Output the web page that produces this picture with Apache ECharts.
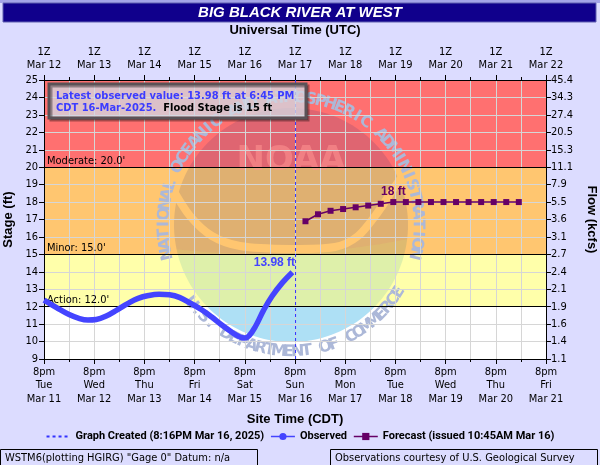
<!DOCTYPE html>
<html><head><meta charset="utf-8">
<script src="https://cdn.jsdelivr.net/npm/echarts@6/dist/echarts.min.js"></script>
<style>html,body{margin:0;padding:0;background:#DCDCFF}#c{width:600px;height:465px}</style>
</head><body><div id="c"></div>
<script>
// ---- data (times in CDT, March 2025) ----
const startTime = '03-11 20:00';           // = 01Z Mar 12
const endTime = '03-21 20:00';
const obsTimes = ['03-11 20:00','03-12 02:00','03-12 08:00','03-12 13:00','03-12 17:00','03-12 21:00',
  '03-13 02:00','03-13 07:00','03-13 12:00','03-13 17:00','03-13 22:00','03-14 03:00','03-14 08:00',
  '03-14 13:00','03-14 18:00','03-14 23:00','03-15 04:00','03-15 09:00','03-15 14:00','03-15 17:00',
  '03-15 20:00','03-15 22:00','03-16 01:00','03-16 05:00','03-16 09:00','03-16 14:00','03-16 18:45'];
const obsStage = [12.38,11.95,11.55,11.32,11.24,11.27,11.48,11.82,12.18,12.48,12.64,12.71,12.68,
  12.52,12.2,11.85,11.42,10.95,10.52,10.3,10.2,10.32,10.85,11.8,12.6,13.38,13.98];
const fcTimes = ['03-17 01:00','03-17 07:00','03-17 13:00','03-17 19:00','03-18 01:00','03-18 07:00',
  '03-18 13:00','03-18 19:00','03-19 01:00','03-19 07:00','03-19 13:00','03-19 19:00','03-20 01:00',
  '03-20 07:00','03-20 13:00','03-20 19:00','03-21 01:00','03-21 07:00'];
const fcStage = [16.9,17.3,17.5,17.6,17.7,17.8,17.9,18.0,18.0,18.0,18.0,18.0,18.0,18.0,18.0,18.0,18.0,18.0];
const createdTime = '03-16 20:16';
const stageMin = 9, stageMax = 25, stageStep = 1;
const thresholdNames = ['Action','Minor','Moderate'];
const thresholdStages = [12, 15, 20];
const zoneColors = ['#FFFFAA','#FFC670','#FF7070'];
const flowTickLabels = ['1.1','1.4','1.6','1.9','2.1','2.4','2.7','3.1','3.6','5.5','7.9','11.1','15.3','20.5','27.4','34.3','45.4'];
const weekdayNames = ['Sun','Mon','Tue','Wed','Thu','Fri','Sat'];

// ---- helpers ----
function hrs(s){ // hours since startTime (all in March)
  const p = t => { const [md,hm]=t.split(' '); const d=+md.split('-')[1]; const [h,m]=hm.split(':').map(Number); return d*24+h+m/60; };
  return p(s) - p(startTime);
}
const obsData = obsTimes.map((t,i)=>[hrs(t), obsStage[i]]);
const fcData = fcTimes.map((t,i)=>[hrs(t), fcStage[i]]);
const createdH = hrs(createdTime);
const xMax = hrs(endTime);
const startDay = 11;

const AX = "'DejaVu Sans Condensed','DejaVu Sans',sans-serif";
const BF = "'Liberation Sans',Arial,sans-serif";
const GRID = '#D6D6D6';

function bottomLabel(v){
  const d = startDay + Math.round(v/24);
  const wd = weekdayNames[new Date(Date.UTC(2025,2,d)).getUTCDay()];
  return '8pm\n' + wd + '\nMar ' + d;
}
function topLabel(v){ return '1Z\nMar ' + (startDay + 1 + Math.round(v/24)); }

// ---- watermark decoration (background logo, drawn in pixels) ----
const CX = 291, CY = 225, R = 117, TR = 127;
const rad = a => a*Math.PI/180;
function quad(p0,c,p1,n){ const out=[]; for(let i=0;i<=n;i++){const t=i/n; out.push([(1-t)*(1-t)*p0[0]+2*(1-t)*t*c[0]+t*t*p1[0],(1-t)*(1-t)*p0[1]+2*(1-t)*t*c[1]+t*t*p1[1]]);} return out; }
function arc(a0,a1,n){ const out=[]; for(let i=0;i<=n;i++){const a=rad(a0+(a1-a0)*i/n); out.push([CX+R*Math.cos(a),CY+R*Math.sin(a)]);} return out; }
const onC = a => [CX+R*Math.cos(rad(a)), CY+R*Math.sin(rad(a))];
function watermark(yLow){
  const wm = [];
  const B0 = onC(168), B1 = onC(7);
  const blueTop = quad(B0,[290,262],B1,24);
  const bluePts = blueTop.concat(arc(7, 168, 60).slice(1));
  const darkPts = arc(168, 367, 70).concat(blueTop.slice().reverse().slice(1));
  wm.push({type:'polygon', z:2, silent:true, shape:{points:bluePts}, style:{fill:'rgb(222,240,255)', blend:'multiply'}});
  // stronger blue where the logo sits on the white (below action stage) band
  const s = Math.asin(Math.min(1,(yLow-CY)/R))*180/Math.PI;
  wm.push({type:'polygon', z:2, silent:true, shape:{points:arc(s, 180-s, 40)}, style:{fill:'rgb(200,238,245)', blend:'multiply'}});
  wm.push({type:'polygon', z:2, silent:true, shape:{points:darkPts}, style:{fill:'rgba(10,30,120,0.13)'}});
  // light wing swoosh
  wm.push({type:'polyline', z:2, silent:true, shape:{points:[[172,188],[190,216],[212,236],[240,246],[290,249],[335,247],[358,236],[378,212],[394,188],[408,168]], smooth:0.3},
    style:{stroke:zoneColors[1], lineWidth:8, fill:null}});
  wm.push({type:'text', z:2, silent:true, x:291, y:161, style:{text:'NOAA', font:"bold 34px 'DejaVu Sans'", fill:'rgba(255,150,145,0.55)', align:'center', verticalAlign:'middle'}});
  function ring(str, a0, a1, top){
    const n = str.length;
    for(let i=0;i<n;i++){
      const th = rad(a0 + (a1-a0)*i/(n-1));
      const x = CX + TR*Math.cos(th), y = CY + TR*Math.sin(th);
      const rot = top ? (1.5*Math.PI - th) : (0.5*Math.PI - th);
      wm.push({type:'text', z:2, silent:true, x, y, rotation:rot,
        style:{text:str[i], font:"bold 16px 'DejaVu Sans'", fill:'rgb(172,184,216)', align:'center', verticalAlign:'middle', blend:'multiply'}});
    }
  }
  ring('NATIONAL OCEANIC AND ATMOSPHERIC ADMINISTRATION', 167, 373, true);
  ring('U.S. DEPARTMENT OF COMMERCE', 142, 32, false);
  return wm;
}

const lastObs = obsData[obsData.length-1];
const fcMax = Math.max(...fcStage);
const fcMaxIdx = fcStage.indexOf(fcMax);

const fixed = [
  {type:'rect', z:1, shape:{x:0,y:0,width:600,height:3}, style:{fill:'#A4A4E8'}},
  {type:'rect', z:1, shape:{x:3,y:3,width:593,height:19}, style:{fill:'#10008C', stroke:'#6060B0', lineWidth:1}},
  {type:'text', z:2, x:300, y:13, style:{text:'BIG BLACK RIVER AT WEST', font:"italic bold 15px 'Liberation Sans'", fill:'#fff', align:'center', verticalAlign:'middle'}},
  {type:'rect', z:10, shape:{x:49,y:84,width:257,height:34}, style:{fill:'rgba(232,236,246,0.72)', stroke:'#5A5257', lineWidth:3, shadowBlur:0, shadowOffsetX:2, shadowOffsetY:2, shadowColor:'rgba(0,0,0,0.35)'}},
  {type:'text', z:11, x:56, y:90, style:{
    text:'{b|Latest observed value: '+lastObs[1].toFixed(2)+' ft at 6:45 PM}\n{b|CDT 16-Mar-2025.}  {k|Flood Stage is '+thresholdStages[1]+' ft}',
    font:"bold 11px 'DejaVu Sans Condensed'", lineHeight:12,
    rich:{b:{fill:'#3C3CFF', font:"bold 11px 'DejaVu Sans Condensed'", lineHeight:12}, k:{fill:'#000', font:"bold 11px 'DejaVu Sans Condensed'", lineHeight:12}}}},
  {type:'rect', z:10, shape:{x:0.5,y:449.5,width:257,height:16}, style:{fill:'none', stroke:'#000', lineWidth:1}},
  {type:'text', z:11, x:5, y:458, style:{text:'WSTM6(plotting HGIRG) "Gage 0" Datum: n/a', font:"11px 'DejaVu Sans Condensed'", fill:'#000', verticalAlign:'middle'}},
  {type:'rect', z:10, shape:{x:330.5,y:449.5,width:267,height:16}, style:{fill:'none', stroke:'#000', lineWidth:1}},
  {type:'text', z:11, x:335, y:458, style:{text:'Observations courtesy of U.S. Geological Survey', font:"11px 'DejaVu Sans Condensed'", fill:'#000', verticalAlign:'middle'}}
];

const option = {
  animation:false,
  backgroundColor:'#DCDCFF',
  grid:{left:44, right:54, top:80, bottom:106, show:true, backgroundColor:'#FFFFFF', borderWidth:0, containLabel:false, outerBoundsMode:'none'},
  xAxis:[
    {type:'value', position:'bottom', min:0, max:xMax, interval:24, z:3,
     axisLine:{show:true, onZero:false, lineStyle:{color:'#000', width:1}},
     axisTick:{show:true, length:5, lineStyle:{color:'#000'}},
     minorTick:{show:true, splitNumber:2, length:3, lineStyle:{color:'#000'}},
     splitLine:{show:true, lineStyle:{color:GRID, width:1}},
     minorSplitLine:{show:true, lineStyle:{color:GRID, width:1}},
     axisLabel:{formatter:bottomLabel, fontFamily:AX, fontSize:11, color:'#000', lineHeight:13.5, margin:6, hideOverlap:false, showMinLabel:true, showMaxLabel:true},
     name:'Site Time (CDT)', nameLocation:'middle', nameGap:54,
     nameTextStyle:{fontFamily:BF, fontWeight:'bold', fontSize:13, color:'#000'}},
    {type:'value', position:'top', min:0, max:xMax, interval:24, z:3,
     axisLine:{show:true, onZero:false, lineStyle:{color:'#000', width:1}},
     axisTick:{show:true, length:5, lineStyle:{color:'#000'}},
     minorTick:{show:true, splitNumber:2, length:3, lineStyle:{color:'#000'}},
     splitLine:{show:false}, minorSplitLine:{show:false},
     axisLabel:{formatter:topLabel, fontFamily:AX, fontSize:11, color:'#000', lineHeight:13, margin:8, hideOverlap:false, showMinLabel:true, showMaxLabel:true},
     name:'Universal Time (UTC)', nameLocation:'middle', nameGap:43,
     nameTextStyle:{fontFamily:BF, fontWeight:'bold', fontSize:13, color:'#000'}}
  ],
  yAxis:[
    {type:'value', position:'left', min:stageMin, max:stageMax, interval:stageStep, z:3,
     axisLine:{show:true, onZero:false, lineStyle:{color:'#000', width:1}},
     axisTick:{show:true, length:5, lineStyle:{color:'#000'}},
     splitLine:{show:true, lineStyle:{color:GRID, width:1}},
     axisLabel:{fontFamily:AX, fontSize:11, color:'#000', margin:6, showMinLabel:true, showMaxLabel:true},
     name:'Stage (ft)', nameLocation:'middle', nameGap:23, nameRotate:90,
     nameTextStyle:{fontFamily:BF, fontWeight:'bold', fontSize:13, color:'#000'}},
    {type:'value', position:'right', min:stageMin, max:stageMax, interval:stageStep, z:3,
     axisLine:{show:true, onZero:false, lineStyle:{color:'#000', width:1}},
     axisTick:{show:true, length:5, lineStyle:{color:'#000'}},
     splitLine:{show:false},
     axisLabel:{fontFamily:AX, fontSize:11, color:'#000', margin:5, showMinLabel:true, showMaxLabel:true,
       formatter:v=>flowTickLabels[Math.round((v-stageMin)/stageStep)]},
     name:'Flow (kcfs)', nameLocation:'middle', nameGap:39, nameRotate:-90,
     nameTextStyle:{fontFamily:BF, fontWeight:'bold', fontSize:13, color:'#000'}}
  ],
  legend:{
    top:426, left:'center', itemWidth:24, itemHeight:9, itemGap:6,
    textStyle:{fontFamily:"Roboto,'Liberation Sans',sans-serif", fontWeight:'bold', fontSize:11, color:'#000'},
    data:[
      {name:'Graph Created (8:16PM Mar 16, 2025)', itemStyle:{color:'transparent', borderWidth:0}},
      {name:'Observed', lineStyle:{width:1.5}},
      {name:'Forecast (issued 10:45AM Mar 16)', lineStyle:{width:1.5}}
    ]
  },
  series:[
    {type:'line', name:'zones', z:1, data:[[0,stageMin]], symbol:'none', lineStyle:{opacity:0}, silent:true,
     markArea:{silent:true, data:[
       [{yAxis:thresholdStages[0], itemStyle:{color:zoneColors[0]}},{yAxis:thresholdStages[1]}],
       [{yAxis:thresholdStages[1], itemStyle:{color:zoneColors[1]}},{yAxis:thresholdStages[2]}],
       [{yAxis:thresholdStages[2], itemStyle:{color:zoneColors[2]}},{yAxis:stageMax}]
     ]}},
    {type:'line', name:'Observed', z:5, data:obsData, showSymbol:false, symbol:'circle', smooth:0.4,
     lineStyle:{color:'#4444FF', width:5.5}, itemStyle:{color:'#4444FF'},
     markPoint:{symbol:'circle', symbolSize:0, data:[{coord:lastObs,
       label:{show:true, formatter:lastObs[1].toFixed(2)+' ft', position:'top', distance:3, offset:[-18,0],
              fontFamily:BF, fontWeight:'bold', fontSize:12, color:'#4444FF'}}]}},
    {type:'line', name:'Forecast (issued 10:45AM Mar 16)', z:5, data:fcData, symbol:'rect', symbolSize:6, showSymbol:true,
     lineStyle:{color:'#660066', width:1.5}, itemStyle:{color:'#660066'},
     markPoint:{symbol:'circle', symbolSize:0, data:[{coord:fcData[fcMaxIdx],
       label:{show:true, formatter:fcMax+' ft', position:'top', distance:4,
              fontFamily:BF, fontWeight:'bold', fontSize:12, color:'#660066'}}]}},
    {type:'line', name:'thresholds', z:6, data:[], symbol:'none',
     markLine:{silent:true, symbol:['none','none'], lineStyle:{color:'#000', width:1, type:'solid'},
       data:thresholdStages.map((s,i)=>({yAxis:s,
         label:{show:true, position:'insideStartTop', distance:[3,1], formatter:thresholdNames[i]+': '+s.toFixed(1)+"'",
                fontFamily:AX, fontSize:11, color:'#000'}}))}},
    {type:'line', name:'Graph Created (8:16PM Mar 16, 2025)', z:7, data:[[createdH,stageMin],[createdH,stageMax]], symbol:'none',
     lineStyle:{color:'#3333FF', width:1, type:[3,3]}, itemStyle:{color:'#3333FF'}}
  ],
  graphic:{elements: fixed}
};

const chart = echarts.init(document.getElementById('c'), null, {renderer:'canvas'});
chart.setOption(option);
const yLow = chart.convertToPixel({yAxisIndex:0}, thresholdStages[0]);
option.graphic = {elements: watermark(yLow).concat(fixed)};
chart.setOption(option, true);
</script></body></html>
